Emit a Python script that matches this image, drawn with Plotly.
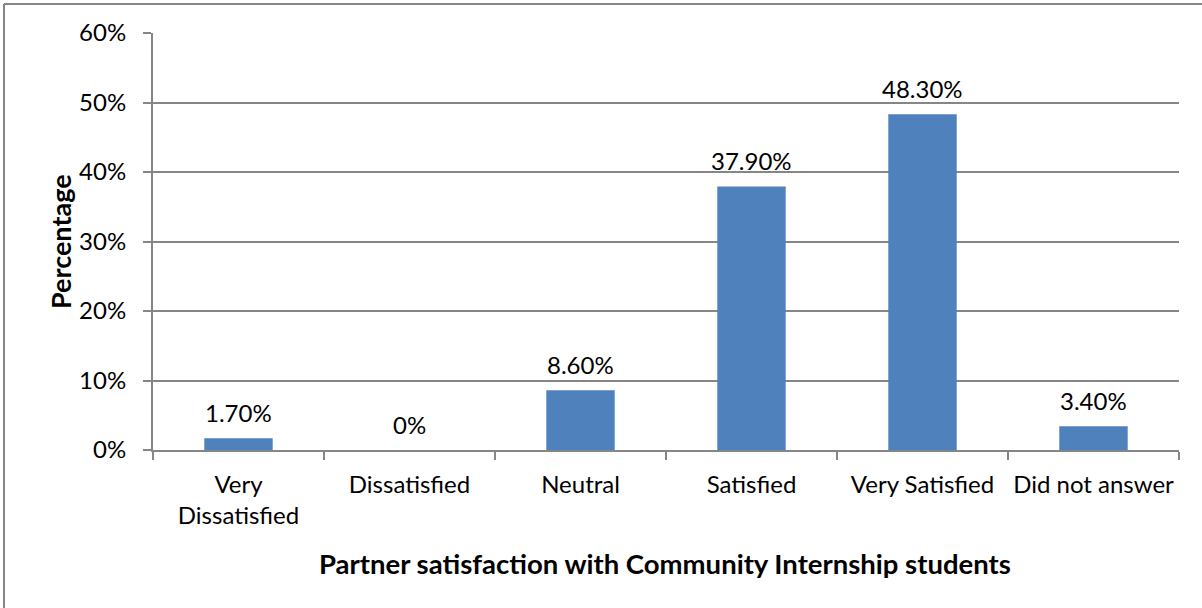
import plotly.graph_objects as go

categories = ["Very<br>Dissatisfied", "Dissatisfied", "Neutral", "Satisfied", "Very Satisfied", "Did not answer"]
values = [0.017, 0.0, 0.086, 0.379, 0.483, 0.034]
labels = ["1.70%", "0%", "8.60%", "37.90%", "48.30%", "3.40%"]
y_ticks = [0, 0.1, 0.2, 0.3, 0.4, 0.5, 0.6]
y_tick_text = ["0%", "10%", "20%", "30%", "40%", "50%", "60%"]

FONT = "Lato, Carlito, Calibri, 'Open Sans', sans-serif"
GRID = "#868686"

fig = go.Figure(go.Bar(
    x=categories, y=values,
    marker=dict(color="#4F81BD", line=dict(width=0)),
    hoverinfo="x+y",
))

L, R, T, B = 153, 23, 33, 158
W, H = 1202, 608
pw, ph = W - L - R, H - T - B

annotations = [
    dict(text=t, x=c, y=v, xref="x", yref="y", yshift=26,
         xanchor="center", yanchor="middle", showarrow=False,
         font=dict(size=24, family=FONT, color="#000000"))
    for c, v, t in zip(categories, values, labels)
]
annotations += [
    dict(text="<b>Partner satisfaction with Community Internship students</b>",
         xref="paper", yref="paper", x=(665 - L) / pw, y=-(563 - (T + ph)) / ph,
         xanchor="center", yanchor="middle", showarrow=False,
         font=dict(size=27.5, family=FONT)),
    dict(text="<b>Percentage</b>", textangle=-90,
         xref="paper", yref="paper", x=(60 - L) / pw, y=(T + ph - 242) / ph,
         xanchor="center", yanchor="middle", showarrow=False,
         font=dict(size=27, family=FONT)),
]

fig.update_layout(
    width=W, height=H,
    margin=dict(l=L, r=R, t=T, b=B),
    paper_bgcolor="white", plot_bgcolor="white",
    bargap=0.6, showlegend=False,
    font=dict(family=FONT, size=24, color="#000000"),
    xaxis=dict(
        showline=True, linecolor=GRID, linewidth=2,
        ticks="outside", tickson="boundaries", ticklen=8, tickcolor=GRID, tickwidth=2,
        tickfont=dict(size=24, family=FONT), showgrid=False, ticklabelstandoff=12,
    ),
    yaxis=dict(
        range=[0, 0.6], tickvals=y_ticks, ticktext=y_tick_text,
        showline=True, linecolor=GRID, linewidth=2,
        ticks="outside", ticklen=8, tickcolor=GRID, tickwidth=2,
        showgrid=True, gridcolor=GRID, gridwidth=2, zeroline=False,
        tickfont=dict(size=24, family=FONT), ticklabelstandoff=12,
    ),
    annotations=annotations,
    shapes=[
        dict(type="line", xref="paper", yref="paper",
             x0=(4 - L) / pw, x1=(W + 5 - L) / pw, y0=(T + ph - 4) / ph, y1=(T + ph - 4) / ph,
             line=dict(color=GRID, width=2)),
        dict(type="line", xref="paper", yref="paper",
             x0=(4 - L) / pw, x1=(4 - L) / pw, y0=(T + ph - 4) / ph, y1=-(H + 5 - T - ph) / ph,
             line=dict(color=GRID, width=2)),
    ],
)

fig.write_html("out.html", config={"displayModeBar": False},
               post_script="document.body.style.margin='0';")
